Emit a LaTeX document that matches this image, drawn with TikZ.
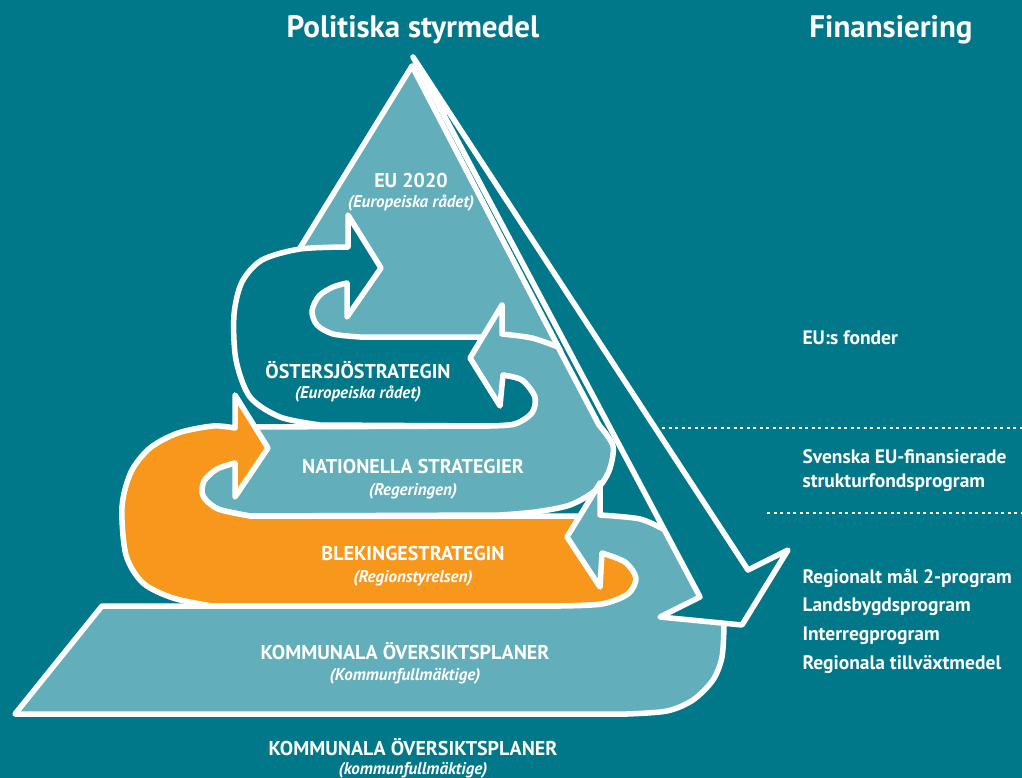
\documentclass[tikz,border=0pt]{standalone}
\usepackage{fontspec}
\setmainfont{PT Sans}
\definecolor{bgteal}{HTML}{00788A}
\definecolor{lightteal}{HTML}{63AEBB}
\definecolor{orangefill}{HTML}{F7981D}
\begin{document}
\begin{tikzpicture}[x=1pt, y=-1pt,
		band/.style={draw=white, line width=5.5pt, line join=round},
		title/.style={text=white, font=\fontsize{31}{36}\selectfont\bfseries},
		lvl/.style={text=white, font=\fontsize{20}{24}\selectfont\bfseries},
		sub/.style={text=white, font=\fontsize{17}{20}\selectfont\bfseries\itshape},
		fin/.style={text=white, anchor=west, align=left, font=\fontsize{19.5}{24}\selectfont\bfseries},
		dotline/.style={white, line width=2pt, dash pattern=on 3pt off 3.5pt}]
		\useasboundingbox (0,0) rectangle (1022,778);
		\fill[bgteal] (0,0) rectangle (1022,778);
		% EU 2020 top
		\draw[band, fill=lightteal] (412,66) -- (561,352) -- (236,352) -- cycle;
		% Östersjöstrategin
		\draw[band, fill=bgteal] (381,268) -- (348,215) -- (348,247)
			-- plot[smooth] coordinates {(348,247) (300,249) (262,260) (242,282) (234,315) (236,360) (250,397) (280,417) (320,425)}
			-- (490,426)
			-- plot[smooth] coordinates {(490,426) (515,424) (532,413) (535,397) (522,380) (503,375)}
			-- (496,355) -- (492,337) -- (360,337)
			-- plot[smooth] coordinates {(360,337) (333,334) (317,325) (312,311) (319,296) (333,287) (347,283)}
			-- (347,317) -- cycle;
		% Nationella strategier
		\draw[band, fill=lightteal] (470,358) -- (502,305) -- (502,334)
			-- plot[smooth] coordinates {(502,334) (532,338) (558,347)}
			-- (599,425)
			-- plot[smooth] coordinates {(599,425) (613,446) (609,471) (596,490) (570,505) (535,512) (500,515)}
			-- (250,516)
			-- plot[smooth] coordinates {(250,516) (218,509) (203,496) (204,481) (217,469) (235,463)}
			-- (245,445) -- (245,427) -- (490,426)
			-- plot[smooth] coordinates {(490,426) (515,424) (532,413) (535,397) (522,380) (503,375)}
			-- (500,406) -- cycle;
		% Blekingestrategin
		\draw[band, fill=orangefill] (268,448) -- (235,395) -- (235,428)
			-- plot[smooth] coordinates {(235,428) (213,426) (178,433) (150,448) (131,472) (122,507) (126,555) (143,583) (173,598) (212,606)}
			-- (560,606)
			-- plot[smooth] coordinates {(560,606) (602,604) (628,594) (636,578) (625,562) (602,553)}
			-- (592,516) -- (250,516)
			-- plot[smooth] coordinates {(250,516) (218,509) (203,496) (204,481) (217,469) (235,463)}
			-- (235,497) -- cycle;
		% Kommunala översiktsplaner
		\draw[band, fill=lightteal] (102,606) -- (560,606)
			-- plot[smooth] coordinates {(560,606) (602,604) (628,594) (636,578) (625,562) (602,553)}
			-- (600,587) -- (567,537) -- (600,483) -- (600,515)
			-- plot[smooth] coordinates {(600,515) (640,519) (665,530)}
			-- (712,560) -- (724,626)
			-- plot[smooth] coordinates {(724,626) (722,657) (713,680) (693,700) (667,711) (627,714)}
			-- (15,714) -- cycle;
		% finansiering arrow
		\draw[band, fill=bgteal] (413,57) -- (748,570) -- (788,550) -- (742,625) -- (660,617) -- (700,597) -- cycle;
		% dotted separators
		\draw[dotline] (662,428) -- (1022,428);
		\draw[dotline] (767,513) -- (1022,513);
		% texts
		\node[title] (polt) at (413,30) {Politiska styrmedel};
		\node[title] (fint) at (891,30) {Finansiering};
		\node[lvl] (eu) at (411,181) {EU 2020};
		\node[sub] (eusub) at (411,203) {(Europeiska rådet)};
		\node[lvl] (ost) at (358,370) {ÖSTERSJÖSTRATEGIN};
		\node[sub] (ostsub) at (358,394) {(Europeiska rådet)};
		\node[lvl] (nat) at (413,466) {NATIONELLA STRATEGIER};
		\node[sub] (natsub) at (413,491) {(Regeringen)};
		\node[lvl] (blek) at (413,553) {BLEKINGESTRATEGIN};
		\node[sub] (bleksub) at (413,578) {(Regionstyrelsen)};
		\node[lvl] (kom) at (405,651) {KOMMUNALA ÖVERSIKTSPLANER};
		\node[sub] (komsub) at (405,676) {(Kommunfullmäktige)};
		\node[lvl] (komb) at (413,747) {KOMMUNALA ÖVERSIKTSPLANER};
		\node[sub] (kombsub) at (413,770) {(kommunfullmäktige)};
		\node[fin] (fonder) at (799,338) {EU:s fonder};
		\node[fin] (svenska) at (799,471) {Svenska EU-finansierade\\strukturfondsprogram};
		\node[fin, font=\fontsize{19.5}{28.7}\selectfont\bfseries] (program) at (799,621) {Regionalt mål 2-program\\Landsbygdsprogram\\Interregprogram\\Regionala tillväxtmedel};
	\end{tikzpicture}
\end{document}
